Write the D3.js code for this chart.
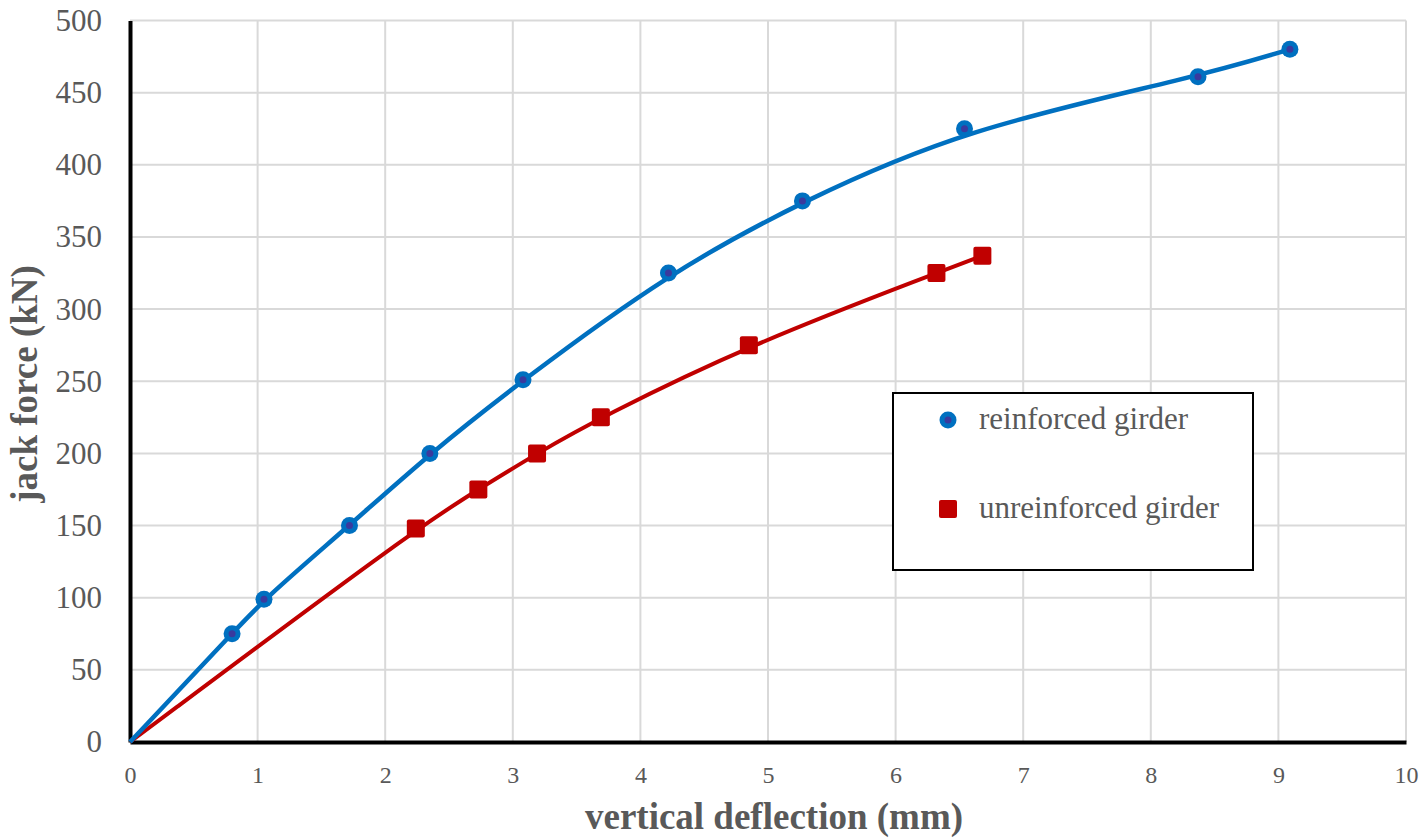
<!DOCTYPE html>
<html>
<head>
<meta charset="utf-8">
<script src="https://cdn.jsdelivr.net/npm/d3@7/dist/d3.min.js"></script>
<style>
  html, body { margin: 0; padding: 0; background: #fff; }
  svg { display: block; font-family: "Liberation Serif", "Times New Roman", serif; }
</style>
</head>
<body>
<svg id="chart" width="1425" height="840"></svg>
<script>
// reinforced girder (blue circles)
const reinforcedX = [0.80, 1.05, 1.72, 2.35, 3.08, 4.22, 5.27, 6.54, 8.37, 9.09];
const reinforcedY = [75, 99, 150, 200, 251, 325, 375, 425, 461, 480];

// unreinforced girder (red squares)
const unreinforcedX = [2.24, 2.73, 3.19, 3.69, 4.85, 6.32, 6.68];
const unreinforcedY = [148, 175, 200, 225, 275, 325, 337];

const xTicks = [0, 1, 2, 3, 4, 5, 6, 7, 8, 9, 10];
const yTicks = [0, 50, 100, 150, 200, 250, 300, 350, 400, 450, 500];

const seriesNames = ["reinforced girder", "unreinforced girder"];

const svg = d3.select("#chart");
const margin = { top: 20.5, right: 19, bottom: 98, left: 130 };
const width = 1425 - margin.left - margin.right;
const height = 840 - margin.top - margin.bottom;

const g = svg.append("g")
  .attr("transform", `translate(${margin.left},${margin.top})`);

const x = d3.scaleLinear().domain([0, 10]).range([0, width]);
const y = d3.scaleLinear().domain([0, 500]).range([height, 0]);

// gridlines
g.append("g")
  .selectAll("line")
  .data(yTicks.slice(1))
  .enter().append("line")
  .attr("x1", 0).attr("x2", width)
  .attr("y1", d => y(d)).attr("y2", d => y(d))
  .attr("stroke", "#d9d9d9").attr("stroke-width", 2);

g.append("g")
  .selectAll("line")
  .data(xTicks.slice(1))
  .enter().append("line")
  .attr("x1", d => x(d)).attr("x2", d => x(d))
  .attr("y1", 0).attr("y2", height)
  .attr("stroke", "#d9d9d9").attr("stroke-width", 2);

// axes
const xAxis = g.append("g")
  .attr("transform", `translate(0,${height})`)
  .call(d3.axisBottom(x).tickValues(xTicks).tickSize(0).tickPadding(24).tickFormat(d3.format("d")));
xAxis.select(".domain").attr("stroke", "#000").attr("stroke-width", 4);
xAxis.selectAll("text")
  .style("font-size", "24px")
  .style("font-family", "'Liberation Serif', serif")
  .attr("fill", "#595959");

const yAxis = g.append("g")
  .call(d3.axisLeft(y).tickValues(yTicks).tickSize(0).tickPadding(28).tickFormat(d3.format("d")));
yAxis.select(".domain").attr("stroke", "#000").attr("stroke-width", 4);
yAxis.selectAll("text")
  .style("font-size", "31px")
  .style("font-family", "'Liberation Serif', serif")
  .attr("fill", "#595959");

// axis titles
svg.append("text")
  .attr("x", 774)
  .attr("y", 829)
  .attr("text-anchor", "middle")
  .style("font-size", "37px")
  .attr("font-weight", "bold")
  .attr("fill", "#595959")
  .text("vertical deflection (mm)");

svg.append("text")
  .attr("transform", "translate(37,384) rotate(-90)")
  .attr("text-anchor", "middle")
  .style("font-size", "37px")
  .attr("font-weight", "bold")
  .attr("fill", "#595959")
  .text("jack force (kN)");

// lines (through origin)
const reinforced = reinforcedX.map((d, i) => ({ x: d, y: reinforcedY[i] }));
const unreinforced = unreinforcedX.map((d, i) => ({ x: d, y: unreinforcedY[i] }));

const line = d3.line()
  .x(d => x(d.x))
  .y(d => y(d.y))
  .curve(d3.curveBasis);

g.append("path")
  .datum([{ x: 0, y: 0 }].concat(unreinforced))
  .attr("fill", "none")
  .attr("stroke", "#c00000")
  .attr("stroke-width", 4)
  .attr("d", line);

g.append("path")
  .datum([{ x: 0, y: 0 }].concat(reinforced))
  .attr("fill", "none")
  .attr("stroke", "#0070c0")
  .attr("stroke-width", 4.5)
  .attr("d", line);

// markers
const dots = g.append("g").selectAll("g")
  .data(reinforced)
  .enter().append("g")
  .attr("transform", d => `translate(${x(d.x)},${y(d.y)})`);
dots.append("circle").attr("r", 8.5).attr("fill", "#0070c0");
dots.append("circle").attr("r", 3.5).attr("fill", "#3a3a9e");

g.append("g").selectAll("rect")
  .data(unreinforced)
  .enter().append("rect")
  .attr("x", d => x(d.x) - 9)
  .attr("y", d => y(d.y) - 9)
  .attr("width", 18)
  .attr("height", 18)
  .attr("rx", 2)
  .attr("fill", "#c00000");

// legend
const legend = svg.append("g").attr("transform", "translate(893,393)");
legend.append("rect")
  .attr("width", 360).attr("height", 177)
  .attr("fill", "#fff")
  .attr("stroke", "#000").attr("stroke-width", 2);

const legendItems = legend.selectAll(".legend-item")
  .data(seriesNames)
  .enter().append("g")
  .attr("class", "legend-item")
  .attr("transform", (d, i) => `translate(0,${27 + i * 89})`);

legendItems.filter((d, i) => i === 0).append("circle")
  .attr("cx", 55).attr("r", 8.5).attr("fill", "#0070c0");
legendItems.filter((d, i) => i === 0).append("circle")
  .attr("cx", 55).attr("r", 3.5).attr("fill", "#3a3a9e");
legendItems.filter((d, i) => i === 1).append("rect")
  .attr("x", 46).attr("y", -9).attr("width", 18).attr("height", 18)
  .attr("rx", 2).attr("fill", "#c00000");

legendItems.append("text")
  .attr("x", 86)
  .attr("y", 9)
  .style("font-size", "31px")
  .attr("fill", "#595959")
  .text(d => d);
</script>
</body>
</html>
